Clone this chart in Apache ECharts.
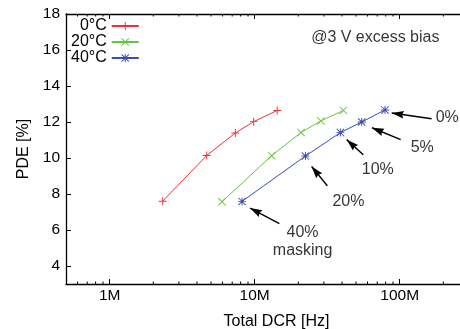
<!DOCTYPE html>
<html><head><meta charset="utf-8">
<script src="https://cdn.jsdelivr.net/npm/echarts@6/dist/echarts.min.js"></script>
<style>html,body{margin:0;padding:0;background:#fff}#c{width:460px;height:329px}</style>
</head><body><div id="c"></div>
<script>
// ---- data ----
const seriesNames = ['0°C', '20°C', '40°C'];
const seriesColors = ['#e8323c', '#66c43e', '#3c4cb4'];
const dcr0 = [2.32e6, 4.67e6, 7.36e6, 9.85e6, 14.3e6];
const pde0 = [7.6, 10.14, 11.39, 12.02, 12.64];
const dcr20 = [5.95e6, 13.1e6, 20.9e6, 28.6e6, 40.9e6];
const pde20 = [7.57, 10.13, 11.42, 12.06, 12.64];
const dcr40 = [8.18e6, 22.4e6, 39.0e6, 54.7e6, 79.2e6];
const pde40 = [7.59, 10.11, 11.41, 12.0, 12.67];
const xTickValues = [1e6, 1e7, 1e8];
const xTickLabels = ['1M', '10M', '100M'];
const yTickValues = [4, 6, 8, 10, 12, 14, 16, 18];
const annotTexts = ['@3 V excess bias', '0%', '5%', '10%', '20%', '40%\nmasking'];
const annotX = [67.9e6, 212.7e6, 143e6, 70.6e6, 44.3e6, 21.4e6];
const annotY = [16.67, 12.22, 10.56, 9.35, 7.59, 5.37];
const arrowTailX = [166e6, 101.6e6, 56.1e6, 31.7e6, 14.8e6];
const arrowTailY = [12.18, 11.02, 10.18, 8.46, 6.35];
const arrowHeadX = [88.1e6, 64.4e6, 43.1e6, 24.7e6, 9.29e6];
const arrowHeadY = [12.5, 11.68, 11.02, 9.53, 7.22];

const xMin = 5e5, xMax = 4e8, yMin = 3, yMax = 18;
const FONT = "'Liberation Sans', Arial, sans-serif";
const TXT = '#000';

// minor tick positions of the log axis (2..9 in each decade)
const minorTicks = [];
for (let d = 1e5; d <= 1e9; d *= 10) {
  for (let m = 2; m <= 9; m++) {
    const v = m * d;
    if (v > xMin && v < xMax) minorTicks.push([v, yMin]);
  }
}

const plusPath = 'path://M44,0H56V100H44Z M0,44H100V56H0Z';
const crossPath = 'path://M0,8L8,0L100,92L92,100Z M92,0L100,8L8,100L0,92Z';
const starPath = 'path://M44,0H56V100H44Z M0,44H100V56H0Z M0,8L8,0L100,92L92,100Z M92,0L100,8L8,100L0,92Z';
// arrow head whose tip sits at the symbol centre
const arrowHead = 'path://M0,0L0,0Z M200,0L200,0Z M100,100L132,200L100,188L68,200Z';
const symbols = [plusPath, crossPath, starPath];
const xs = [dcr0, dcr20, dcr40];
const ys = [pde0, pde20, pde40];

const lineSeries = seriesNames.map((name, k) => ({
  name, type: 'line',
  data: xs[k].map((x, i) => [x, ys[k][i]]),
  symbol: symbols[k], symbolSize: 8,
  lineStyle: { color: seriesColors[k], width: 1 },
  itemStyle: { color: seriesColors[k] },
  emphasis: { disabled: true },
  z: 3
}));

const axisLineStyle = { color: '#000', width: 1.3 };

const option = {
  animation: false,
  backgroundColor: '#fff',
  grid: { left: 66, top: 14, right: -27, bottom: 45, outerBoundsMode: 'none' },
  legend: {
    orient: 'vertical', left: 71, top: 18, padding: 0, itemGap: 0,
    align: 'right', itemWidth: 27, itemHeight: 10, selectedMode: false,
    data: seriesNames,
    textStyle: { fontFamily: FONT, fontSize: 16, color: TXT, lineHeight: 13.7 }
  },
  xAxis: [{
    type: 'log', logBase: 10, min: xMin, max: xMax, position: 'bottom',
    axisLine: { show: true, lineStyle: axisLineStyle },
    axisTick: { show: true, inside: true, length: 5, lineStyle: { color: '#000' } },
    axisLabel: {
      fontFamily: FONT, fontSize: 15.5, color: TXT, margin: 4, hideOverlap: false,
      formatter: v => {
        const i = xTickValues.findIndex(t => Math.abs(t - v) / t < 1e-6);
        return i >= 0 ? xTickLabels[i] : '';
      }
    },
    splitLine: { show: false },
    name: 'Total DCR [Hz]', nameLocation: 'middle', nameGap: 30,
    nameTextStyle: { fontFamily: FONT, fontSize: 16, color: TXT }
  }, {
    type: 'log', logBase: 10, min: xMin, max: xMax, position: 'top',
    axisLine: { show: true, lineStyle: axisLineStyle },
    axisTick: { show: true, inside: true, length: 5, lineStyle: { color: '#000' } },
    axisLabel: { show: false },
    splitLine: { show: false }
  }],
  yAxis: [{
    type: 'value', min: yMin, max: yMax, splitNumber: 7,
    axisLine: { show: true, lineStyle: axisLineStyle },
    axisTick: { show: true, inside: true, length: 5, lineStyle: { color: '#000' } },
    axisLabel: {
      fontFamily: FONT, fontSize: 15.5, color: TXT, margin: 6,
      formatter: v => (yTickValues.indexOf(v) >= 0 ? String(v) : '')
    },
    splitLine: { show: false },
    name: 'PDE [%]', nameLocation: 'middle', nameGap: 34,
    nameTextStyle: { fontFamily: FONT, fontSize: 16, color: TXT }
  }],
  series: [
    ...lineSeries,
    {
      type: 'custom', silent: true, clip: false, z: 2,
      data: minorTicks,
      encode: { x: 0, y: 1 },
      renderItem: (params, api) => {
        const v = api.value(0);
        const b = api.coord([v, yMin]);
        const t = api.coord([v, yMax]);
        const len = 2.5;
        return {
          type: 'group', children: [
            { type: 'line', shape: { x1: b[0], y1: b[1], x2: b[0], y2: b[1] - len }, style: { stroke: '#000', lineWidth: 1 } },
            { type: 'line', shape: { x1: t[0], y1: t[1], x2: t[0], y2: t[1] + len }, style: { stroke: '#000', lineWidth: 1 } }
          ]
        };
      }
    },
    {
      type: 'scatter', silent: true, symbolSize: 0, z: 4,
      data: annotTexts.map((s, i) => ({ name: s, value: [annotX[i], annotY[i]] })),
      label: {
        show: true, position: 'inside', formatter: '{b}',
        fontFamily: FONT, fontSize: 16, color: TXT, lineHeight: 18
      },
      markLine: {
        silent: true, animation: false,
        symbol: ['none', arrowHead], symbolSize: 24,
        lineStyle: { color: '#000', width: 1.4, type: 'solid', opacity: 1 },
        itemStyle: { color: '#000' },
        label: { show: false },
        emphasis: { disabled: true },
        data: arrowTailX.map((x, i) => [
          { coord: [x, arrowTailY[i]] },
          { coord: [arrowHeadX[i], arrowHeadY[i]] }
        ])
      }
    }
  ]
};

const chart = echarts.init(document.getElementById('c'), null, { renderer: 'canvas' });
chart.setOption(option);
</script>
</body></html>
